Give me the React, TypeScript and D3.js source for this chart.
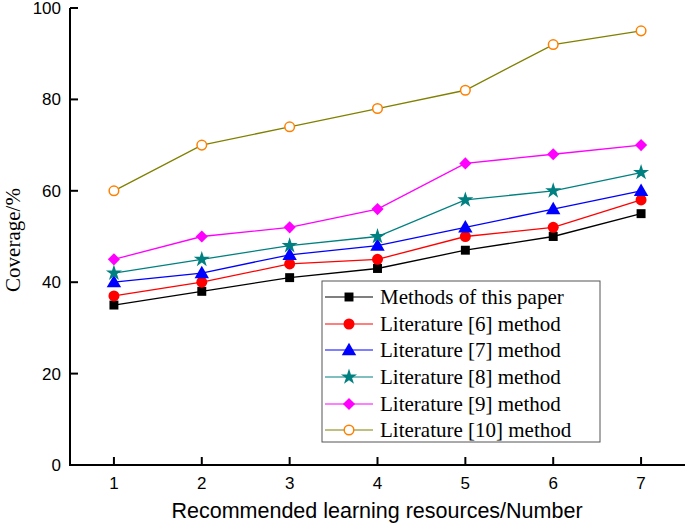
import React from "react";
import * as d3 from "d3";

const xValues = [1, 2, 3, 4, 5, 6, 7];
const yTicks = [0, 20, 40, 60, 80, 100];
const seriesNames = [
  "Methods of this paper",
  "Literature [6] method",
  "Literature [7] method",
  "Literature [8] method",
  "Literature [9] method",
  "Literature [10] method",
];
const methodsThis = [35, 38, 41, 43, 47, 50, 55];
const lit6 = [37, 40, 44, 45, 50, 52, 58];
const lit7 = [40, 42, 46, 48, 52, 56, 60];
const lit8 = [42, 45, 48, 50, 58, 60, 64];
const lit9 = [45, 50, 52, 56, 66, 68, 70];
const lit10 = [60, 70, 74, 78, 82, 92, 95];

const seriesData = [methodsThis, lit6, lit7, lit8, lit9, lit10];
const lineColors = ["#000000", "#ff0000", "#0000ff", "#008080", "#ff00ff", "#808000"];
const markerColors = ["#000000", "#ff0000", "#0000ff", "#008080", "#ff00ff", "#ff8000"];
const markerTypes = ["square", "circle", "triangle", "star", "diamond", "hollow"];

const W = 685;
const H = 527;
const left = 70;
const top = 8;
const bottom = 465;

const x = d3.scaleLinear().domain([0.5, 7.5]).range([70, 685]);
const y = d3.scaleLinear().domain([0, 100]).range([bottom, top]);

function Marker({ type, color, cx, cy }: { type: string; color: string; cx: number; cy: number }) {
  const symMap: Record<string, any> = {
    square: [d3.symbolSquare, 80],
    circle: [d3.symbolCircle, 95],
    triangle: [d3.symbolTriangle, 90],
    star: [d3.symbolStar, 80],
    diamond: [d3.symbolDiamond, 110],
    hollow: [d3.symbolCircle, 75],
  };
  const [sym, size] = symMap[type];
  const path = d3.symbol().type(sym).size(size)() as string;
  if (type === "diamond") {
    const dpath = d3.symbol().type(d3.symbolSquare).size(74)() as string;
    return <path d={dpath} transform={`translate(${cx},${cy}) rotate(45)`} fill={color} />;
  }
  if (type === "hollow") {
    return <circle cx={cx} cy={cy} r={4.8} fill="#fff" stroke={color} strokeWidth={1.5} />;
  }
  return <path d={path} transform={`translate(${cx},${cy + (type === "triangle" ? 1 : 0)})`} fill={color} />;
}

export default function App() {
  const line = d3
    .line<number>()
    .x((_, i) => x(xValues[i]))
    .y((d) => y(d));
  const legendRowY = [297, 324, 350, 377, 404, 430];
  return (
    <svg width={W} height={H} style={{ position: "absolute", left: 0, top: 0 }}>
      <rect width={W} height={H} fill="#fff" />
      {seriesData.map((s, k) => (
        <path key={k} d={line(s) as string} fill="none" stroke={lineColors[k]} strokeWidth={1.3} />
      ))}
      {seriesData.map((s, k) =>
        s.map((v, i) => (
          <Marker key={`${k}-${i}`} type={markerTypes[k]} color={markerColors[k]} cx={x(xValues[i])} cy={y(v)} />
        ))
      )}
      {/* axes */}
      <line x1={left} x2={left} y1={top} y2={bottom + 1} stroke="#000" strokeWidth={2} />
      <line x1={left - 1} x2={W} y1={bottom} y2={bottom} stroke="#000" strokeWidth={2} />
      {yTicks.map((t) => (
        <g key={t}>
          <line x1={left} x2={left + 8} y1={y(t)} y2={y(t)} stroke="#000" strokeWidth={2} />
          <text
            x={left - 9}
            y={y(t)}
            dy="0.35em"
            textAnchor="end"
            fontFamily="Liberation Sans, Arial, sans-serif"
            fontSize={17}
          >
            {t}
          </text>
        </g>
      ))}
      {xValues.map((t) => (
        <g key={t}>
          <line x1={x(t)} x2={x(t)} y1={bottom} y2={bottom - 8} stroke="#000" strokeWidth={2} />
          <text
            x={x(t)}
            y={bottom + 24}
            textAnchor="middle"
            fontFamily="Liberation Sans, Arial, sans-serif"
            fontSize={17}
          >
            {t}
          </text>
        </g>
      ))}
      <text
        x={377}
        y={518}
        textAnchor="middle"
        fontFamily="Liberation Sans, Arial, sans-serif"
        fontSize={21.5}
      >
        Recommended learning resources/Number
      </text>
      <text
        transform={`translate(20,240) rotate(-90)`}
        textAnchor="middle"
        fontFamily="Liberation Serif, Times New Roman, serif"
        fontSize={21}
      >
        Coverage/%
      </text>
      {/* legend */}
      <rect x={322} y={281} width={278} height={161} fill="#fff" stroke="#555" strokeWidth={1} />
      {seriesNames.map((name, k) => (
        <g key={name}>
          <line x1={325} x2={373} y1={legendRowY[k]} y2={legendRowY[k]} stroke={lineColors[k]} strokeWidth={1.2} />
          <Marker type={markerTypes[k]} color={markerColors[k]} cx={349} cy={legendRowY[k]} />
          <text
            x={380}
            y={legendRowY[k]}
            dy="0.35em"
            fontFamily="Liberation Serif, Times New Roman, serif"
            fontSize={21}
          >
            {name}
          </text>
        </g>
      ))}
    </svg>
  );
}
